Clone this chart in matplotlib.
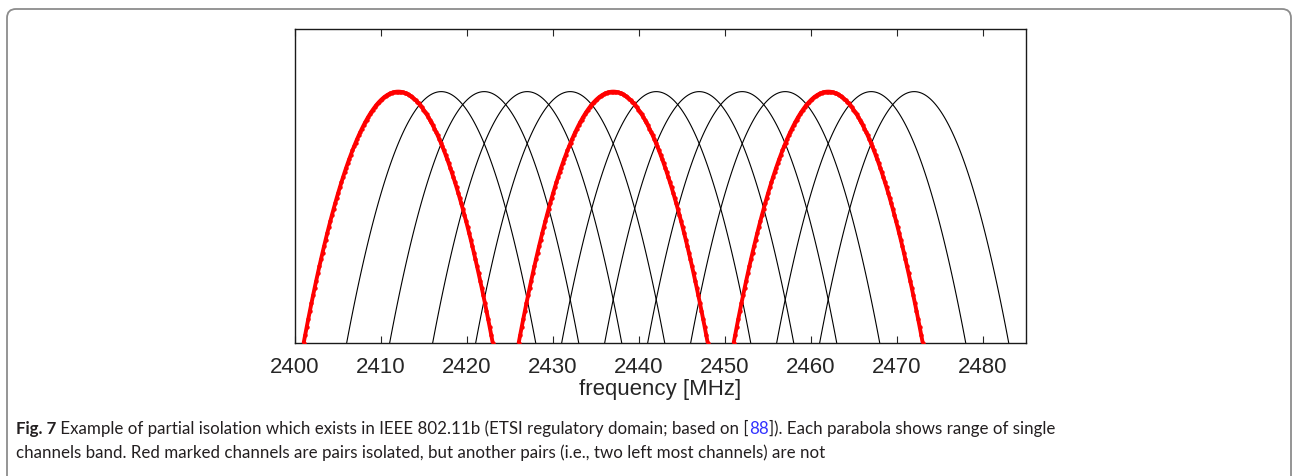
import numpy as np
import matplotlib
matplotlib.use("Agg")
import matplotlib.pyplot as plt
from matplotlib.patches import FancyBboxPatch

# ---- data ----
channel_centers = [2412, 2417, 2422, 2427, 2432, 2437, 2442, 2447, 2452, 2457, 2462, 2467, 2472]
red_channels = [2412, 2437, 2462]
half_width = 11.0          # MHz, each channel spans centre +/- 11 MHz
peak_level = 1.0
xtick_values = [2400, 2410, 2420, 2430, 2440, 2450, 2460, 2470, 2480]
xtick_labels = [str(v) for v in xtick_values]
x_label = "frequency [MHz]"
caption_bold = "Fig. 7"
caption_line1_a = " Example of partial isolation which exists in IEEE 802.11b (ETSI regulatory domain; based on ["
caption_ref = "88"
caption_line1_b = "]). Each parabola shows range of single"
caption_line2 = "channels band. Red marked channels are pairs isolated, but another pairs (i.e., two left most channels) are not"

W, H, DPI = 1292, 477, 100
fig = plt.figure(figsize=(W / DPI, H / DPI), dpi=DPI)

# outer rounded frame (open at bottom)
frame = FancyBboxPatch((7 / DPI, -0.2), (1291 - 7) / DPI, (H - 10) / DPI + 0.2,
                       boxstyle="round,pad=0,rounding_size=0.09",
                       transform=fig.dpi_scale_trans, facecolor="none",
                       edgecolor="#8c8c8c", linewidth=1.3)
fig.patches.append(frame)

ax = fig.add_axes([295 / W, 1 - 344.3 / H, (1026 - 295) / W, (344.3 - 29.7) / H])

for c in channel_centers:
    f = np.linspace(c - half_width, c + half_width, 121)
    y = peak_level * (1 - ((f - c) / half_width) ** 2)
    if c in red_channels:
        ax.plot(f, y, color="red", lw=2.8, marker="o", ms=3.2, mew=0,
                solid_capstyle="round", zorder=3)
    else:
        ax.plot(f, y, color="black", lw=0.8, zorder=2)

ax.set_xlim(2400, 2485)
ax.set_ylim(0, 1.25)
ax.set_xticks(xtick_values)
ax.set_xticklabels(xtick_labels, fontsize=16, color="#262626", family="Liberation Sans")
ax.set_yticks([])
ax.tick_params(axis="x", direction="in", length=5, width=0.8, top=True, pad=9, color="#262626")
for s in ax.spines.values():
    s.set_linewidth(1.0)
    s.set_color("#1a1a1a")
ax.set_xlabel(x_label, fontsize=16, color="#262626", family="Liberation Sans", labelpad=1)

# caption
cap_font = dict(family="Lato", fontsize=12.15, color="#231f20")
t1 = fig.text(16 / W, 1 - 434 / H, caption_bold, weight="bold", va="baseline", ha="left", **cap_font)
t2 = ax.annotate(caption_line1_a, xy=(1, 0), xycoords=t1, va="bottom", ha="left",
                 annotation_clip=False, **cap_font)
ref_font = dict(cap_font)
ref_font["color"] = "#3333ff"
t3 = ax.annotate(caption_ref, xy=(1, 0), xycoords=t2, va="bottom", ha="left",
                 annotation_clip=False, **ref_font)
t4 = ax.annotate(caption_line1_b, xy=(1, 0), xycoords=t3, va="bottom", ha="left",
                 annotation_clip=False, **cap_font)
fig.text(16 / W, 1 - 458 / H, caption_line2, va="baseline", ha="left", **cap_font)

fig.savefig("out.png", dpi=DPI)
